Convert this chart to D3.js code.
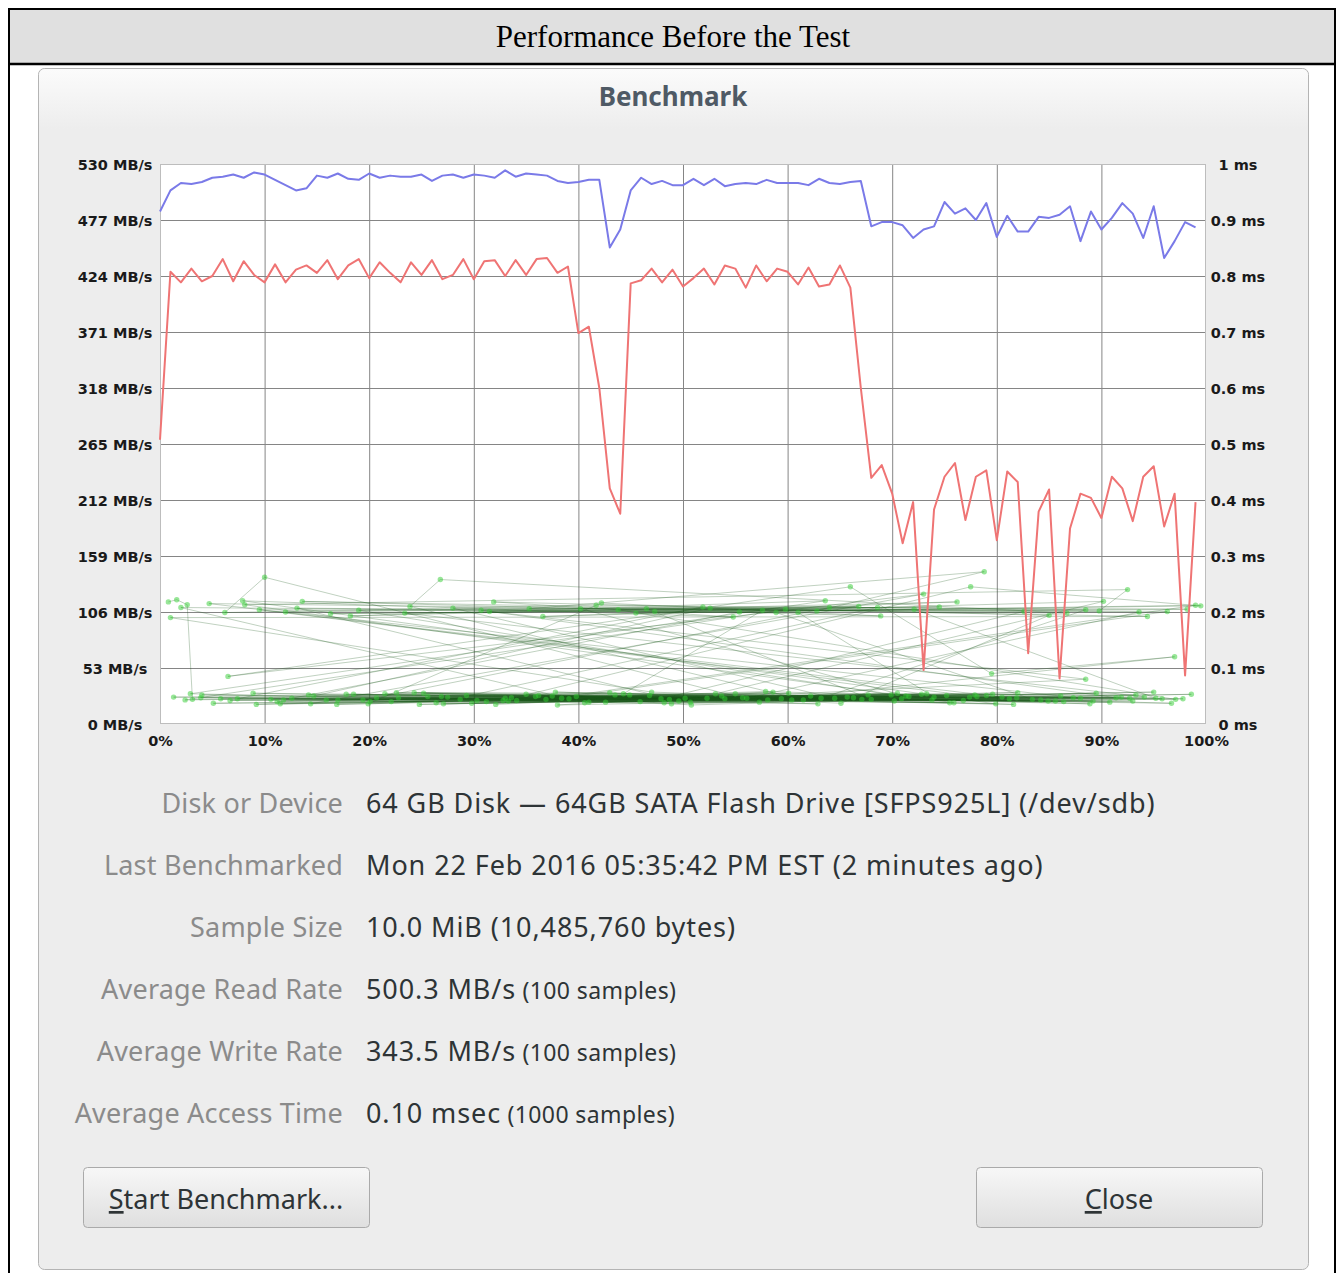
<!DOCTYPE html>
<html>
<head>
<meta charset="utf-8">
<script src="https://cdn.jsdelivr.net/npm/d3@7"></script>
<style>
  body { margin: 0; background: #fff; }
  svg { display: block; }
</style>
</head>
<body>
<svg id="chart" width="1344" height="1273"></svg>
<script>
// read rate samples, MB/s (100 samples, one per percent of disk)
const readRate = [485, 505, 512, 511, 513, 517, 518, 520, 517, 522,
  520, 515, 510, 505, 507, 519, 517, 521, 516, 515,
  521, 517, 519, 518, 518, 520, 514, 519, 520, 517,
  520, 519, 517, 524, 518, 521, 520, 519, 514, 512,
  513, 515, 515, 451, 468, 505, 517, 511, 514, 510,
  510, 516, 510, 516, 509, 511, 512, 511, 515, 512,
  512, 512, 510, 516, 512, 511, 513, 514, 471, 475,
  475, 472, 460, 468, 471, 494, 483, 488, 477, 493,
  461, 481, 466, 466, 480, 479, 482, 490, 457, 485,
  468, 479, 493, 483, 460, 490, 441, 457, 475, 470];

// write rate samples, MB/s
const writeRate = [269, 428, 418, 431, 419, 424, 440, 419, 438, 425,
  418, 435, 418, 430, 434, 427, 439, 421, 434, 440,
  422, 437, 427, 418, 437, 425, 439, 421, 425, 440,
  421, 438, 439, 424, 439, 425, 440, 441, 427, 433,
  370, 376, 318, 223, 199, 417, 420, 431, 418, 430,
  414, 422, 431, 416, 434, 431, 413, 434, 419, 431,
  428, 416, 432, 414, 416, 434, 413, 318, 233, 245,
  218, 171, 210, 51, 203, 234, 247, 193, 234, 240,
  174, 239, 229, 67, 201, 222, 43, 185, 218, 214,
  195, 234, 223, 192, 234, 244, 187, 218, 46, 210];

// access time samples [position %, ms], in the order they were taken
const accessSamples = [
  [0.8, .218], [1.6, .222], [2.6, .213], [3.1, .044], [27.5, .048], [11.2, .040], [46.8, .051], [19.4, .043], [63.2, .046],
  [88.5, .204], [41.7, .212], [6.2, .199], [10.0, .262], [57.3, .039], [22.8, .047], [79.6, .053], [34.1, .042], [70.9, .045], [14.7, .050],
  [52.6, .207], [96.3, .201], [38.4, .046], [84.9, .041], [25.6, .049], [67.1, .044], [8.9, .055], [48.2, .038], [91.4, .047],
  [30.7, .203], [74.5, .209], [16.3, .197], [59.8, .205], [2.4, .043], [43.5, .052], [81.2, .045], [20.1, .040], [65.7, .048], [36.9, .044],
  [99.0, .212], [55.4, .200], [12.6, .046], [76.8, .042], [29.3, .051], [94.1, .048], [50.7, .039], [5.8, .045], [71.3, .050],
  [40.2, .206], [86.7, .198], [26.8, .258], [23.9, .210], [61.5, .043], [33.6, .047], [89.2, .041], [17.8, .053], [54.0, .045], [78.1, .049],
  [9.5, .204], [47.3, .201], [68.6, .208], [26.4, .038], [92.7, .046], [44.9, .052], [1.3, .048], [73.8, .043], [37.5, .050], [83.4, .044],
  [58.9, .199], [13.1, .207], [49.6, .041], [66.3, .047], [21.5, .054], [97.8, .045], [31.2, .040], [80.5, .048],
  [4.7, .215], [62.8, .202], [78.8, .272], [35.3, .206], [93.6, .200], [56.1, .046], [15.9, .043], [75.2, .051], [42.6, .039], [87.3, .047], [28.7, .044], [69.9, .052],
  [19.0, .203], [51.9, .209], [7.4, .045], [85.6, .041], [39.8, .049], [60.4, .043], [24.3, .056], [95.2, .046],
  [72.1, .205], [45.5, .198], [99.5, .211], [77.5, .245], [32.8, .042], [77.4, .048], [10.6, .044], [53.7, .050], [90.8, .039], [64.5, .046],
  [28.0, .207], [82.6, .201], [47.9, .045], [18.5, .053], [70.2, .041], [3.9, .047], [58.1, .043], [35.9, .049], [88.0, .046],
  [12.0, .200], [66.8, .210], [43.8, .204], [97.1, .044], [22.1, .040], [79.0, .051], [50.2, .046], [30.3, .042], [74.0, .048],
  [61.0, .199], [2.0, .208], [39.1, .045], [84.2, .043], [14.2, .052], [55.7, .047], [93.0, .041], [26.9, .049], [68.0, .044],
  [46.5, .206], [89.8, .202], [92.5, .240], [8.1, .213], [75.9, .038], [33.0, .046], [62.2, .050], [17.0, .043], [81.9, .047], [44.3, .054],
  [57.6, .203], [23.4, .198], [95.8, .045], [6.7, .042], [71.6, .049], [48.7, .044], [36.2, .051], [86.4, .040], [20.7, .047],
  [64.0, .208], [98.2, .205], [31.5, .201], [88.5, .080], [52.3, .046], [11.8, .043], [77.9, .052], [41.0, .039], [91.9, .048], [59.4, .045],
  [97.0, .120], [79.5, .090], [66.0, .245], [6.5, .085], [73.0, .232],
  [14.4, .036], [60.1, .055], [33.3, .041], [86.1, .050], [5.1, .037], [72.8, .053], [45.9, .040], [95.0, .057], [24.8, .035], [67.7, .052],
  [40.6, .038], [82.0, .056], [11.5, .036], [53.1, .054],
  [90.2, .219], [36.6, .192], [76.2, .218], [18.2, .193], [63.6, .220],
  [2.9, .054], [48.9, .036], [98.6, .053], [29.8, .037], [70.5, .055], [16.9, .035], [58.6, .057], [38.0, .034], [93.3, .052], [22.6, .056], [79.9, .036],
  [7.9, .220], [54.8, .191], [31.9, .218], [85.0, .194],
  [65.1, .037], [43.0, .056], [9.2, .035], [73.3, .054], [27.1, .036], [89.5, .055], [50.8, .034], [35.0, .053], [96.7, .037], [57.9, .058], [19.9, .036],
  [42.2, .216], [68.9, .193], [13.6, .219], [94.4, .192], [1.0, .190],
  [47.0, .057], [81.6, .035], [25.2, .055], [62.9, .036], [4.0, .052], [75.5, .038], [37.8, .057], [88.9, .036], [55.0, .054], [32.1, .035]
];

const rateTicks = [0, 53, 106, 159, 212, 265, 318, 371, 424, 477, 530];
const msTicks = [0, 0.1, 0.2, 0.3, 0.4, 0.5, 0.6, 0.7, 0.8, 0.9, 1];
const pctTicks = [0, 10, 20, 30, 40, 50, 60, 70, 80, 90, 100];

const infoLabels = ["Disk or Device", "Last Benchmarked", "Sample Size",
  "Average Read Rate", "Average Write Rate", "Average Access Time"];
const infoValues = ["64 GB Disk \u2014 64GB SATA Flash Drive [SFPS925L] (/dev/sdb)",
  "Mon 22 Feb 2016 05:35:42 PM EST (2 minutes ago)",
  "10.0 MiB (10,485,760 bytes)",
  "500.3 MB/s", "343.5 MB/s", "0.10 msec"];
const infoNotes = ["", "", "", "(100 samples)", "(100 samples)", "(1000 samples)"];

const svg = d3.select("#chart");
const defs = svg.append("defs");

const headGrad = defs.append("linearGradient").attr("id", "headGrad")
  .attr("x1", 0).attr("y1", 0).attr("x2", 0).attr("y2", 1);
headGrad.append("stop").attr("offset", 0).attr("stop-color", "#fbfbfb");
headGrad.append("stop").attr("offset", 1).attr("stop-color", "#ededed");

const btnGrad = defs.append("linearGradient").attr("id", "btnGrad")
  .attr("x1", 0).attr("y1", 0).attr("x2", 0).attr("y2", 1);
btnGrad.append("stop").attr("offset", 0).attr("stop-color", "#f7f7f7");
btnGrad.append("stop").attr("offset", 1).attr("stop-color", "#dfdfdf");

// outer frame + caption band
svg.append("rect").attr("x", 9).attr("y", 9).attr("width", 1326).attr("height", 1300)
  .attr("fill", "#fff").attr("stroke", "#000").attr("stroke-width", 2);
svg.append("rect").attr("x", 10).attr("y", 10).attr("width", 1324).attr("height", 54)
  .attr("fill", "#e0e0e0");
svg.append("line").attr("x1", 9).attr("x2", 1335).attr("y1", 64).attr("y2", 64)
  .attr("stroke", "#000").attr("stroke-width", 2.5);
svg.append("text").attr("x", 673).attr("y", 47).attr("text-anchor", "middle")
  .attr("font-family", "Liberation Serif, serif").attr("font-size", 31)
  .text("Performance Before the Test");

// dialog window
svg.append("rect").attr("x", 38.5).attr("y", 68.5).attr("width", 1270).attr("height", 1201)
  .attr("rx", 6).attr("fill", "#ededed").attr("stroke", "#b4b4b4");
svg.append("rect").attr("x", 39).attr("y", 69).attr("width", 1269).attr("height", 60)
  .attr("rx", 6).attr("fill", "url(#headGrad)");
svg.append("text").attr("x", 673).attr("y", 106).attr("text-anchor", "middle")
  .attr("font-family", "Noto Sans, sans-serif").attr("font-weight", "bold")
  .attr("font-size", 26).attr("fill", "#4f5a65").text("Benchmark");

// plot
const x = d3.scaleLinear().domain([0, 100]).range([160, 1206]);
const yRate = d3.scaleLinear().domain([0, 530]).range([724, 164]);
const yMs = d3.scaleLinear().domain([0, 1]).range([724, 164]);

svg.append("rect").attr("x", 160).attr("y", 164).attr("width", 1046).attr("height", 560)
  .attr("fill", "#fff");

const axisFont = "DejaVu Sans, sans-serif";

const gLeft = svg.append("g").attr("transform", "translate(160,0)")
  .call(d3.axisLeft(yRate).tickValues(rateTicks).tickSize(-1046).tickPadding(0)
    .tickFormat(d => d + " MB/s"));
const gRight = svg.append("g").attr("transform", "translate(1206,0)")
  .call(d3.axisRight(yMs).tickValues(msTicks).tickSize(0).tickPadding(0)
    .tickFormat(d => (+d.toFixed(1)) + " ms"));
const gBottom = svg.append("g").attr("transform", "translate(0,724)")
  .call(d3.axisBottom(x).tickValues(pctTicks).tickSize(-560).tickPadding(0)
    .tickFormat(d => d + "%"));

[gLeft, gRight, gBottom].forEach(g => {
  g.select(".domain").remove();
  g.selectAll(".tick line").attr("stroke", "#858585").attr("stroke-width", 1);
  g.selectAll("text").attr("font-family", axisFont).attr("font-weight", "bold")
    .attr("font-size", 14.5).attr("fill", "#1a1a1a").attr("text-anchor", "middle");
});
gLeft.selectAll(".tick").filter(d => d === 0 || d === 530).select("line").remove();
gBottom.selectAll(".tick").filter(d => d === 0 || d === 100).select("line").remove();
gLeft.selectAll("text").attr("x", -45).attr("dy", "0.35em");
gRight.selectAll("text").attr("x", 32).attr("dy", "0.35em");
gBottom.selectAll("text").attr("y", 17).attr("dy", "0.35em");

svg.append("rect").attr("x", 160.5).attr("y", 164.5).attr("width", 1045).attr("height", 559)
  .attr("fill", "none").attr("stroke", "#bdbdbd");

// access time: connecting lines, then dots
const accessLine = d3.line().x(d => x(d[0])).y(d => yMs(d[1]));
const plotG = svg.append("g");
plotG.append("path").datum(accessSamples).attr("d", accessLine)
  .attr("fill", "none").attr("stroke", "rgba(30,90,30,0.28)").attr("stroke-width", 1);
plotG.selectAll("circle").data(accessSamples).enter().append("circle")
  .attr("cx", d => x(d[0])).attr("cy", d => yMs(d[1])).attr("r", 2.7)
  .attr("fill", "rgba(50,205,50,0.5)");

// read / write lines
const rateLine = d3.line().x((d, i) => x(i)).y(d => yRate(d));
plotG.append("path").datum(writeRate).attr("d", rateLine)
  .attr("fill", "none").attr("stroke", "#ef7474").attr("stroke-width", 2)
  .attr("stroke-linejoin", "round");
plotG.append("path").datum(readRate).attr("d", rateLine)
  .attr("fill", "none").attr("stroke", "#7a7ae8").attr("stroke-width", 2)
  .attr("stroke-linejoin", "round");

// info grid
const infoG = svg.append("g").attr("font-family", "Noto Sans, sans-serif");
infoLabels.forEach((lab, i) => {
  const cy = 813 + i * 62;
  infoG.append("text").attr("x", 343).attr("y", cy).attr("text-anchor", "end")
    .attr("font-size", 27).attr("letter-spacing", 0.2).attr("fill", "#8b8b8b").text(lab);
  const t = infoG.append("text").attr("x", 366).attr("y", cy)
    .attr("font-size", 27).attr("letter-spacing", 0.9).attr("fill", "#2e3436");
  t.append("tspan").text(infoValues[i]);
  if (infoNotes[i]) {
    t.append("tspan").attr("font-size", 23).attr("letter-spacing", 0.4).text(" " + infoNotes[i]);
  }
});

// buttons
const buttons = [{ x: 83, first: "S", rest: "tart Benchmark..." }, { x: 976, first: "C", rest: "lose" }];
buttons.forEach(b => {
  svg.append("rect").attr("x", b.x + 0.5).attr("y", 1167.5).attr("width", 286).attr("height", 60)
    .attr("rx", 4).attr("fill", "url(#btnGrad)").attr("stroke", "#aaaaaa");
  const t = svg.append("text").attr("x", b.x + 143).attr("y", 1209).attr("text-anchor", "middle")
    .attr("font-family", "Noto Sans, sans-serif").attr("font-size", 27).attr("fill", "#2e3436");
  t.append("tspan").attr("text-decoration", "underline").text(b.first);
  t.append("tspan").text(b.rest);
});
</script>
</body>
</html>
